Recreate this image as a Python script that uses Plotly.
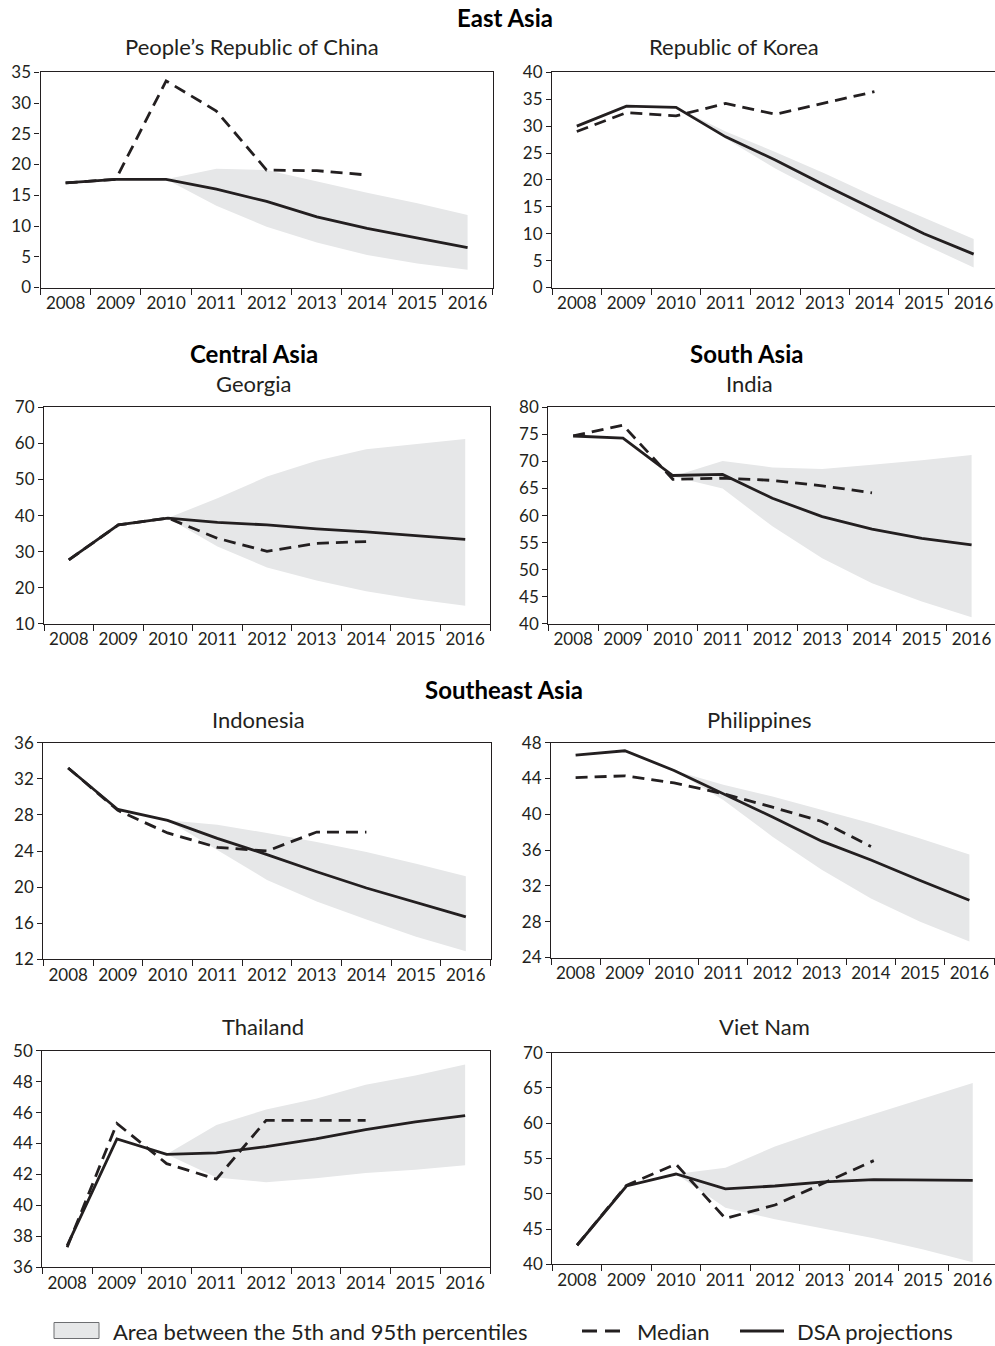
import plotly.graph_objects as go

W, H = 995, 1346

years = ["2008", "2009", "2010", "2011", "2012", "2013", "2014", "2015", "2016"]
median_years = years[:7]
band_years = years[2:]

# People's Republic of China
china_dsa = [17.0, 17.6, 17.6, 16.0, 14.0, 11.5, 9.6, 8.0, 6.5]
china_median = [17.0, 17.6, 33.6, 28.7, 19.1, 19.0, 18.3]
china_hi = [17.6, 19.3, 19.1, 17.2, 15.4, 13.7, 11.8]
china_lo = [17.6, 13.3, 9.9, 7.3, 5.3, 3.9, 2.9]

# Republic of Korea
korea_dsa = [30.0, 33.7, 33.5, 28.0, 23.7, 19.0, 14.5, 10.0, 6.2]
korea_median = [29.0, 32.5, 31.9, 34.2, 32.2, 34.3, 36.4]
korea_hi = [33.5, 29.0, 25.2, 21.2, 16.9, 13.0, 9.0]
korea_lo = [33.5, 27.7, 22.1, 17.3, 12.5, 8.0, 3.7]

# Georgia
georgia_dsa = [27.7, 37.4, 39.3, 38.1, 37.4, 36.3, 35.5, 34.5, 33.4]
georgia_median = [27.7, 37.4, 39.3, 33.7, 30.1, 32.3, 32.8]
georgia_hi = [39.3, 44.8, 50.8, 55.2, 58.4, 59.8, 61.2]
georgia_lo = [39.3, 31.4, 25.6, 22.0, 19.0, 16.8, 15.0]

# India
india_dsa = [74.7, 74.3, 67.4, 67.6, 63.2, 59.8, 57.5, 55.8, 54.6]
india_median = [74.7, 76.7, 66.7, 66.9, 66.5, 65.5, 64.2]
india_hi = [67.2, 70.1, 68.9, 68.6, 69.4, 70.2, 71.2]
india_lo = [67.2, 65.0, 58.0, 52.1, 47.5, 44.1, 41.2]

# Indonesia
indonesia_dsa = [33.2, 28.6, 27.4, 25.4, 23.6, 21.7, 19.9, 18.3, 16.7]
indonesia_median = [33.2, 28.5, 26.0, 24.4, 24.0, 26.1, 26.1]
indonesia_hi = [27.4, 26.9, 26.0, 25.0, 23.9, 22.6, 21.2]
indonesia_lo = [27.4, 24.1, 20.8, 18.4, 16.4, 14.5, 12.9]

# Philippines
philippines_dsa = [46.6, 47.1, 44.9, 42.3, 39.7, 37.0, 34.9, 32.6, 30.4]
philippines_median = [44.1, 44.3, 43.5, 42.3, 40.8, 39.2, 36.4]
philippines_hi = [44.9, 43.3, 42.0, 40.5, 39.0, 37.3, 35.5]
philippines_lo = [44.9, 41.6, 37.5, 33.8, 30.6, 28.0, 25.8]

# Thailand
thailand_dsa = [37.4, 44.3, 43.3, 43.4, 43.8, 44.3, 44.9, 45.4, 45.8]
thailand_median = [37.3, 45.3, 42.7, 41.7, 45.5, 45.5, 45.5]
thailand_hi = [43.3, 45.2, 46.2, 46.9, 47.8, 48.4, 49.1]
thailand_lo = [43.3, 41.8, 41.5, 41.75, 42.1, 42.3, 42.6]

# Viet Nam
vietnam_dsa = [42.7, 51.1, 52.8, 50.7, 51.1, 51.7, 52.0, 51.95, 51.9]
vietnam_median = [42.7, 51.2, 54.2, 46.5, 48.4, 51.6, 54.7]
vietnam_hi = [52.8, 53.7, 56.7, 59.1, 61.3, 63.5, 65.7]
vietnam_lo = [52.8, 48.0, 46.4, 45.1, 43.7, 42.1, 40.3]

panels = [
    # title, dsa, median, hi, lo, yrange, dtick, (x0,x1,y0,y1 px), xrange_end, right_col, title_x, title_y
    ("People’s Republic of China", china_dsa, china_median, china_hi, china_lo, [0, 35], 5, (40.5, 492.7, 72.3, 287.5), 8.5, False, 252, 47),
    ("Republic of Korea", korea_dsa, korea_median, korea_hi, korea_lo, [0, 40], 5, (552, 995, 72.3, 287.5), 8.43, True, 734, 47),
    ("Georgia", georgia_dsa, georgia_median, georgia_hi, georgia_lo, [10, 70], 10, (44, 490, 407.3, 623.8), 8.5, False, 253, 383),
    ("India", india_dsa, india_median, india_hi, india_lo, [40, 80], 5, (548.3, 995, 407.3, 623.8), 8.47, True, 749, 383),
    ("Indonesia", indonesia_dsa, indonesia_median, indonesia_hi, indonesia_lo, [12, 36], 4, (43.3, 490.7, 742.7, 959.3), 8.5, False, 258, 719),
    ("Philippines", philippines_dsa, philippines_median, philippines_hi, philippines_lo, [24, 48], 4, (551, 995, 742.7, 957.5), 8.52, True, 759, 719),
    ("Thailand", thailand_dsa, thailand_median, thailand_hi, thailand_lo, [36, 50], 2, (42.3, 490, 1050.7, 1267.3), 8.5, False, 263, 1026),
    ("Viet Nam", vietnam_dsa, vietnam_median, vietnam_hi, vietnam_lo, [40, 70], 5, (552.3, 995, 1052.7, 1264.3), 8.45, True, 764, 1026),
]

INK = "#231f20"
BAND = "#e6e7e8"
FONT = "Lato"

fig = go.Figure()
annotations = []
layout_axes = {}

for i, (title, dsa, med, hi, lo, yr, dt, box, xend, right, tx, ty) in enumerate(panels):
    n = i + 1
    xa = "x" if n == 1 else f"x{n}"
    ya = "y" if n == 1 else f"y{n}"
    fig.add_trace(go.Scatter(x=band_years, y=lo, xaxis=xa, yaxis=ya, mode="lines",
                             line=dict(width=0, color=BAND), showlegend=False, hoverinfo="skip"))
    fig.add_trace(go.Scatter(x=band_years, y=hi, xaxis=xa, yaxis=ya, mode="lines", fill="tonexty",
                             fillcolor=BAND, line=dict(width=0, color=BAND), showlegend=False,
                             name="Area between the 5th and 95th percentiles"))
    fig.add_trace(go.Scatter(x=median_years, y=med, xaxis=xa, yaxis=ya, mode="lines",
                             line=dict(width=2.8, color=INK, dash="12px,7px"), showlegend=False, name="Median"))
    fig.add_trace(go.Scatter(x=years, y=dsa, xaxis=xa, yaxis=ya, mode="lines",
                             line=dict(width=2.8, color=INK), showlegend=False, name="DSA projections"))
    x0, x1, y0, y1 = box
    xkey = "xaxis" if n == 1 else f"xaxis{n}"
    ykey = "yaxis" if n == 1 else f"yaxis{n}"
    layout_axes[xkey] = dict(
        domain=[x0 / W, x1 / W], anchor=ya, type="category",
        categoryorder="array", categoryarray=years, range=[-0.5, xend],
        tickson="boundaries", ticks="outside", ticklen=6, tickwidth=1, tickcolor=INK,
        showline=True, linecolor=INK, linewidth=1.2, mirror=True, showgrid=False,
        tickangle=0, automargin=False,
        tickfont=dict(family=FONT, size=17, color=INK), fixedrange=True,
    )
    layout_axes[ykey] = dict(
        domain=[1 - y1 / H, 1 - y0 / H], anchor=xa, range=yr, dtick=dt, tick0=yr[0],
        ticks="outside", ticklen=5, tickwidth=1, tickcolor=INK,
        showline=True, linecolor=INK, linewidth=1.2, mirror=not right, showgrid=False,
        zeroline=False, automargin=False,
        tickfont=dict(family=FONT, size=17, color=INK), fixedrange=True,
    )
    annotations.append(dict(text=title, x=tx / W, y=1 - ty / H, xref="paper", yref="paper",
                            xanchor="center", yanchor="middle", showarrow=False,
                            font=dict(family=FONT, size=22, color=INK)))

# Section headings
for text, px, py in [("East Asia", 505, 18), ("Central Asia", 254, 354), ("South Asia", 746, 354),
                     ("Southeast Asia", 504, 690)]:
    annotations.append(dict(text=f"<b>{text}</b>", x=px / W, y=1 - py / H, xref="paper", yref="paper",
                            xanchor="center", yanchor="middle", showarrow=False,
                            font=dict(family=FONT, size=24, color="#000000")))

# Legend (drawn at bottom)
leg_y = 1 - 1331 / H
shapes = [
    dict(type="rect", xref="paper", yref="paper", x0=54 / W, x1=99 / W, y0=1 - 1338.5 / H, y1=1 - 1322.5 / H,
         fillcolor=BAND, line=dict(color="#6d6e71", width=1)),
    dict(type="line", xref="paper", yref="paper", x0=582 / W, x1=628 / W, y0=leg_y, y1=leg_y,
         line=dict(color=INK, width=2.8, dash="15px,8px")),
    dict(type="line", xref="paper", yref="paper", x0=740 / W, x1=784 / W, y0=leg_y, y1=leg_y,
         line=dict(color=INK, width=2.8)),
]
for text, px in [("Area between the 5th and 95th percentiles", 111), ("Median", 635), ("DSA projections", 795)]:
    annotations.append(dict(text=text, x=px / W, y=leg_y, xref="paper", yref="paper",
                            xanchor="left", yanchor="middle", showarrow=False,
                            font=dict(family=FONT, size=22, color=INK)))

fig.update_layout(
    template="none",
    width=W, height=H, autosize=False, margin=dict(l=0, r=0, t=0, b=0, pad=0, autoexpand=False),
    paper_bgcolor="white", plot_bgcolor="white",
    font=dict(family=FONT, color=INK),
    showlegend=False, annotations=annotations, shapes=shapes,
    **layout_axes,
)

fig.write_html("out.html", config={"displayModeBar": False},
               post_script="document.body.style.margin='0';document.body.style.overflow='hidden';")
